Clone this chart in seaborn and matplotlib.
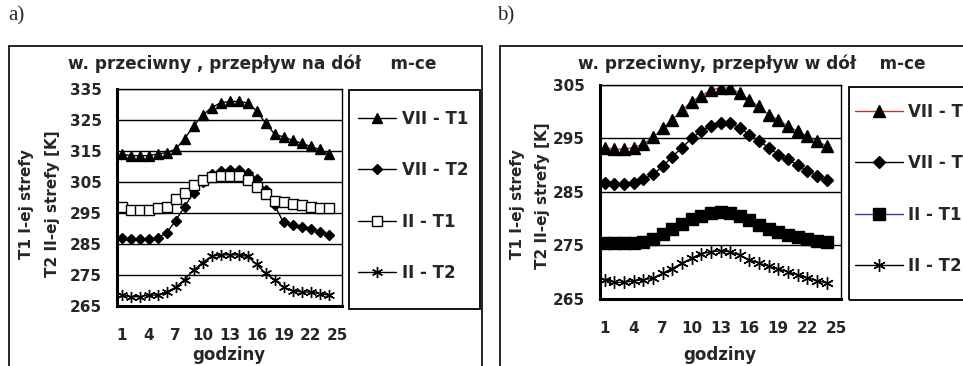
import matplotlib
matplotlib.use("Agg")
import matplotlib.pyplot as plt
import seaborn as sns
from matplotlib.patches import Rectangle

# hours of the day (categories on the x axis)
HOURS = list(range(1, 25))
X_TICKS = [1, 4, 7, 10, 13, 16, 19, 22, 25]

LABELS = ["VII - T1", "VII - T2", "II - T1", "II - T2"]

# panel a) - przeplyw na dol
A_VII_T1 = [314, 313.5, 313.5, 313.5, 314, 314.5, 315.5, 319, 323, 326.5, 329, 330.5,
            331, 331, 330.5, 328, 324, 320.5, 319.5, 318.5, 317.5, 316.5, 315.5, 314]
A_VII_T2 = [287, 286.5, 286.5, 286.5, 287, 288.5, 292.5, 297, 301.5, 305, 307.5, 308.5,
            309, 309, 308, 306, 302.5, 297.5, 292, 291, 290.5, 289.8, 289, 288]
A_II_T1 = [297, 296, 296, 296, 296.5, 297, 299.5, 301.5, 304, 305.5, 306.5, 307,
           307, 307, 305.5, 303.5, 301, 299, 298.5, 298, 297.5, 297, 296.5, 296.5]
A_II_T2 = [268.5, 268, 268, 268.5, 268.5, 269.5, 271, 273.5, 276.5, 279, 281, 281.5,
           281.5, 281.5, 281, 278.5, 275.5, 273.5, 271, 270, 269.5, 269.5, 269, 268.5]

# panel b) - przeplyw w dol
B_VII_T1 = [293.3, 293, 293, 293.3, 294, 295.2, 296.9, 298.5, 300.3, 301.9, 303, 304,
            304.5, 304.4, 303.5, 302.2, 301, 299.4, 298.5, 297.3, 296.4, 295.4, 294.5, 293.6]
B_VII_T2 = [286.7, 286.5, 286.5, 286.7, 287.4, 288.3, 289.8, 291.6, 293.3, 295, 296.4, 297.3,
            297.9, 297.9, 297, 295.7, 294.5, 293.3, 292, 291.1, 290, 289, 288, 287.2]
B_II_T1 = [275.5, 275.5, 275.5, 275.5, 275.7, 276.3, 277.2, 278.1, 279.1, 280, 280.6, 281,
           281.2, 281, 280.5, 279.7, 278.9, 278.1, 277.5, 277, 276.6, 276.2, 275.8, 275.6]
B_II_T2 = [268.6, 268.1, 268.1, 268.4, 268.6, 268.9, 269.8, 270.7, 271.7, 272.6, 273.5, 273.8,
           274, 273.8, 273.2, 272.3, 271.7, 271.1, 270.6, 270.1, 269.5, 269, 268.4, 268]

W, H = 963, 366


def fx(px):
    return px / W


def fy(py):
    return 1 - py / H


def style_axes(ax, ymin, ymax):
    ''' excel-like look: black grid, thick left/bottom axis, ticks between categories '''
    ax.set_xlim(0.5, 25.5)
    ax.set_ylim(ymin, ymax)
    ax.set_yticks(range(ymin, ymax + 1, 10))
    ax.set_yticks(range(ymin + 5, ymax, 10), minor=True)
    ax.set_xticks(X_TICKS)
    ax.set_xticks([0.5 + 3 * k for k in range(9)], minor=True)
    ax.yaxis.grid(True, color="black", linewidth=1)
    ax.xaxis.grid(False)
    ax.set_axisbelow(True)
    for side in ["left", "bottom"]:
        ax.spines[side].set_linewidth(2.2)
    for side in ["top", "right"]:
        ax.spines[side].set_linewidth(1)
    for sp in ax.spines.values():
        sp.set_color("black")
        sp.set_visible(True)
    ax.tick_params(axis="y", which="major", length=5, width=1.5, pad=6,
                   labelsize=11, direction="out", color="black")
    ax.tick_params(axis="y", which="minor", length=3, width=1.2, direction="out")
    ax.tick_params(axis="x", which="major", length=0, pad=16, labelsize=11)
    ax.tick_params(axis="x", which="minor", length=5, width=1.5, direction="out")
    ax.set_xlabel("")
    ax.set_ylabel("")
    for lab in ax.get_xticklabels() + ax.get_yticklabels():
        lab.set_fontweight("bold")


def draw_series(ax, ys, spec):
    for vals, label, (marker, ms, face, lcolor) in zip(ys, LABELS, spec):
        sns.lineplot(x=HOURS, y=vals, ax=ax, color=lcolor, linewidth=1,
                     marker=marker, markersize=ms, markerfacecolor=face,
                     markeredgecolor="black", markeredgewidth=1,
                     label=label, legend=False)


def main():
    sns.set_style("white")
    plt.rcParams["font.family"] = ["DejaVu Sans"]
    plt.rcParams["font.weight"] = "bold"

    fig = plt.figure(figsize=(W / 100, H / 100), dpi=100)

    # outer frames of both panels
    fig.add_artist(Rectangle((fx(9), fy(375)), fx(482) - fx(9), fy(46) - fy(375),
                             transform=fig.transFigure, fill=False, ec="black", lw=1.2))
    fig.add_artist(Rectangle((fx(500), fy(375)), fx(990) - fx(500), fy(46) - fy(375),
                             transform=fig.transFigure, fill=False, ec="black", lw=1.2))

    fig.text(fx(8), fy(16), "a)", family="Liberation Serif", fontweight="normal",
             fontsize=15, va="center", ha="left")
    fig.text(fx(497), fy(16), "b)", family="Liberation Serif", fontweight="normal",
             fontsize=15, va="center", ha="left")

    # ---- panel a
    ax_a = fig.add_axes([fx(117), fy(306), fx(342) - fx(117), fy(89) - fy(306)])
    spec_a = [("^", 7.5, "black", "black"),
              ("D", 5.5, "black", "black"),
              ("s", 7, "white", "black"),
              ((6, 2, 0), 8, "black", "black")]
    draw_series(ax_a, [A_VII_T1, A_VII_T2, A_II_T1, A_II_T2], spec_a)
    style_axes(ax_a, 265, 335)

    fig.text(fx(252), fy(64), "w. przeciwny , przepływ na dół     m-ce",
             fontsize=12.2, fontweight="bold", ha="center", va="center")
    fig.text(fx(229), fy(355), "godziny", fontsize=12, fontweight="bold",
             ha="center", va="center")
    fig.text(fx(27), fy(204), "T1 I-ej strefy", rotation=90, fontsize=11,
             fontweight="bold", ha="center", va="center")
    fig.text(fx(53), fy(204), "T2 II-ej strefy [K]", rotation=90, fontsize=11,
             fontweight="bold", ha="center", va="center")

    fig.add_artist(Rectangle((fx(349), fy(309)), fx(480) - fx(349), fy(90) - fy(309),
                             transform=fig.transFigure, fill=False, ec="black", lw=1.3))
    handles, labels = ax_a.get_legend_handles_labels()
    ax_a.legend(handles, labels, loc="upper left", bbox_to_anchor=(fx(358), fy(110)),
                bbox_transform=fig.transFigure, frameon=False, borderpad=0,
                borderaxespad=0, handlelength=2.3, handletextpad=0.35,
                labelspacing=2.0, prop={"size": 12, "weight": "bold"})

    # ---- panel b
    ax_b = fig.add_axes([fx(600), fy(299), fx(841) - fx(600), fy(85) - fy(299)])
    spec_b = [("^", 8.5, "black", "#c0392b"),
              ("D", 6.5, "black", "black"),
              ("s", 8.5, "black", "#3a3aa0"),
              ((6, 2, 0), 9, "black", "black")]
    draw_series(ax_b, [B_VII_T1, B_VII_T2, B_II_T1, B_II_T2], spec_b)
    style_axes(ax_b, 265, 305)

    fig.text(fx(752), fy(64), "w. przeciwny, przepływ w dół    m-ce",
             fontsize=12.2, fontweight="bold", ha="center", va="center")
    fig.text(fx(720), fy(355), "godziny", fontsize=12, fontweight="bold",
             ha="center", va="center")
    fig.text(fx(517), fy(204), "T1 I-ej strefy", rotation=90, fontsize=11,
             fontweight="bold", ha="center", va="center")
    fig.text(fx(543), fy(196), "T2 II-ej strefy [K]", rotation=90, fontsize=11,
             fontweight="bold", ha="center", va="center")

    fig.add_artist(Rectangle((fx(849), fy(300)), fx(1000) - fx(849), fy(87) - fy(300),
                             transform=fig.transFigure, fill=False, ec="black", lw=1.3))
    handles, labels = ax_b.get_legend_handles_labels()
    ax_b.legend(handles, labels, loc="upper left", bbox_to_anchor=(fx(855), fy(103)),
                bbox_transform=fig.transFigure, frameon=False, borderpad=0,
                borderaxespad=0, handlelength=2.9, handletextpad=0.25,
                labelspacing=2.0, prop={"size": 12, "weight": "bold"})

    fig.savefig("out.png", dpi=100)


if __name__ == "__main__":
    main()
